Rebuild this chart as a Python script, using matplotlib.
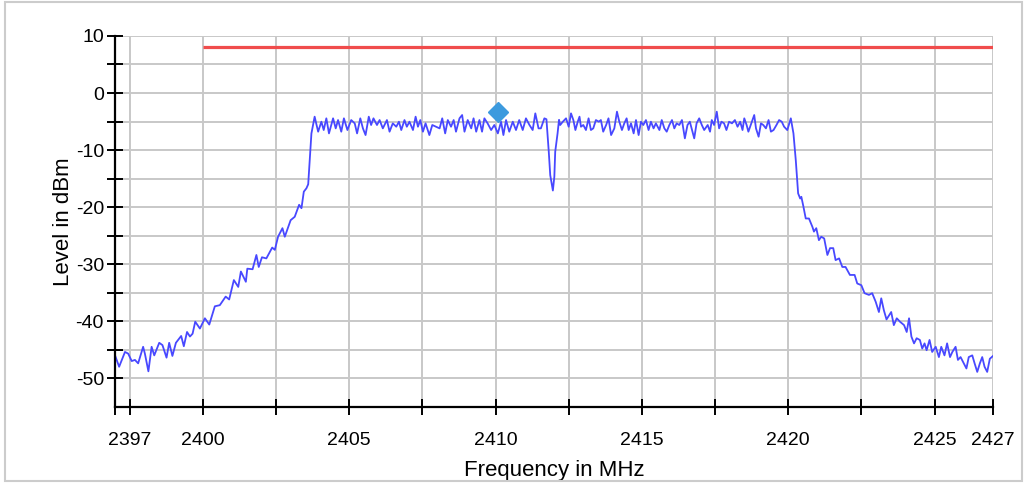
import matplotlib
matplotlib.use("Agg")
import matplotlib.pyplot as plt
from matplotlib.patches import Rectangle

# spectrum trace (MHz, dBm)
freq_mhz = [
    2397.00, 2397.14, 2397.34, 2397.45, 2397.57, 2397.68, 2397.79, 2397.96, 2398.02, 2398.14,
    2398.25, 2398.34, 2398.51, 2398.62, 2398.76, 2398.85, 2398.96, 2399.08, 2399.26, 2399.35,
    2399.46, 2399.56, 2399.65, 2399.74, 2399.90, 2400.07, 2400.22, 2400.41, 2400.58, 2400.78,
    2400.90, 2401.06, 2401.21, 2401.30, 2401.47, 2401.52, 2401.70, 2401.83, 2401.91, 2402.02,
    2402.17, 2402.37, 2402.46, 2402.57, 2402.72, 2402.80, 2403.00, 2403.14, 2403.29, 2403.37,
    2403.45, 2403.54, 2403.60, 2403.71,
    2403.82, 2403.94, 2404.05, 2404.13, 2404.22, 2404.31, 2404.45, 2404.54, 2404.62, 2404.73,
    2404.82, 2404.94, 2405.07, 2405.19, 2405.27, 2405.38, 2405.47, 2405.56, 2405.67, 2405.75,
    2405.83, 2405.95, 2406.04, 2406.15, 2406.29, 2406.38, 2406.49, 2406.61, 2406.70, 2406.78,
    2406.89, 2406.97, 2407.06, 2407.18, 2407.27, 2407.35, 2407.43, 2407.52, 2407.61, 2407.74,
    2407.84, 2407.97, 2408.09, 2408.18, 2408.28, 2408.37, 2408.48, 2408.57, 2408.65, 2408.77,
    2408.86, 2408.94, 2409.05, 2409.17, 2409.25, 2409.34, 2409.45, 2409.54, 2409.62, 2409.73,
    2409.85, 2409.96, 2410.08, 2410.19, 2410.27, 2410.36, 2410.47, 2410.59, 2410.70, 2410.81,
    2410.93, 2411.04, 2411.16, 2411.27, 2411.36, 2411.47, 2411.55, 2411.67, 2411.74,
    2411.82, 2411.87, 2411.96, 2412.01, 2412.04, 2412.12, 2412.17,
    2412.21, 2412.30, 2412.41, 2412.50, 2412.58, 2412.66, 2412.73, 2412.81, 2412.87, 2412.92,
    2413.00, 2413.09, 2413.18, 2413.26, 2413.34, 2413.43, 2413.53, 2413.60, 2413.68, 2413.78,
    2413.86, 2413.95, 2414.06, 2414.15, 2414.23, 2414.32, 2414.40, 2414.48, 2414.55, 2414.63,
    2414.72, 2414.80, 2414.89, 2414.97, 2415.05, 2415.14, 2415.23, 2415.31, 2415.40, 2415.48,
    2415.60, 2415.68, 2415.77, 2415.85, 2415.94, 2416.03, 2416.11, 2416.19, 2416.28, 2416.37,
    2416.47, 2416.56, 2416.64, 2416.73, 2416.79, 2416.87, 2416.96, 2417.05, 2417.13, 2417.25,
    2417.33, 2417.39, 2417.47, 2417.56, 2417.64, 2417.72, 2417.81, 2417.89, 2417.98, 2418.08,
    2418.18, 2418.27, 2418.36, 2418.44, 2418.50, 2418.58, 2418.64, 2418.72, 2418.84, 2418.90,
    2418.99, 2419.07, 2419.15, 2419.24, 2419.33, 2419.41, 2419.50, 2419.60, 2419.69, 2419.78,
    2419.86, 2419.97, 2420.09, 2420.18,
    2420.26, 2420.34, 2420.41, 2420.45, 2420.52, 2420.60, 2420.71, 2420.83, 2420.88, 2420.96,
    2421.05, 2421.13, 2421.23, 2421.34, 2421.43, 2421.54, 2421.62, 2421.74, 2421.85, 2421.96,
    2422.11, 2422.27, 2422.36, 2422.50, 2422.61, 2422.76, 2422.87, 2422.99, 2423.10, 2423.18,
    2423.27, 2423.36, 2423.52, 2423.61, 2423.71, 2423.82, 2423.96, 2424.05, 2424.13, 2424.21,
    2424.30, 2424.39, 2424.50, 2424.58, 2424.66, 2424.73, 2424.83, 2424.92, 2425.04, 2425.15,
    2425.23, 2425.34, 2425.43, 2425.53, 2425.61, 2425.72, 2425.80, 2425.89, 2426.00, 2426.09,
    2426.17, 2426.29, 2426.37, 2426.46, 2426.55, 2426.63, 2426.71, 2426.80, 2426.89, 2427.00,
]
level_dbm = [
    -46.0, -48.0, -45.4, -45.7, -47.0, -46.8, -47.4, -44.5, -45.7, -48.8,
    -44.5, -46.0, -43.8, -44.2, -46.4, -43.8, -46.1, -43.8, -42.6, -44.4,
    -41.9, -42.7, -42.2, -40.1, -41.3, -39.5, -40.6, -37.4, -37.2, -35.7,
    -36.2, -32.8, -34.0, -31.3, -33.1, -30.8, -30.9, -28.4, -30.5, -28.8,
    -29.0, -27.1, -27.5, -25.2, -23.7, -25.2, -22.3, -21.7, -19.6, -20.2,
    -17.3, -16.7, -16.0, -7.1,
    -4.15, -6.78, -5.03, -6.49, -4.44, -7.08, -4.44, -6.20, -4.74, -6.78,
    -4.44, -6.49, -4.74, -5.32, -7.08, -4.44, -6.20, -7.37, -4.15, -5.61,
    -4.44, -5.61, -4.74, -6.20, -4.74, -6.78, -5.32, -5.91, -5.03, -6.49,
    -4.74, -5.91, -5.03, -6.49, -4.15, -5.91, -4.74, -6.78, -5.32, -7.37,
    -5.61, -5.91, -6.20, -4.44, -7.08, -4.74, -5.91, -4.74, -6.78, -4.44,
    -3.86, -6.78, -4.74, -6.20, -4.44, -6.78, -4.74, -6.78, -4.44, -5.32,
    -6.49, -5.61, -7.08, -5.03, -7.37, -4.74, -6.78, -5.03, -6.49, -4.74,
    -6.49, -4.44, -5.61, -6.49, -3.57, -6.20, -6.20, -4.44, -4.60,
    -10.3, -14.4, -17.1, -14.7, -10.3, -7.1, -4.7,
    -5.61, -5.03, -4.44, -5.91, -3.57, -4.74, -6.49, -5.03, -4.15, -5.91,
    -5.61, -6.49, -4.44, -6.49, -6.20, -4.74, -5.03, -4.74, -6.78, -5.61,
    -4.44, -7.37, -6.20, -3.27, -5.03, -6.49, -5.32, -4.44, -6.49, -5.32,
    -7.08, -4.74, -7.37, -5.03, -5.61, -4.74, -6.49, -5.03, -6.20, -5.32,
    -6.49, -4.74, -6.20, -6.78, -5.61, -4.74, -6.20, -5.32, -5.61, -4.74,
    -7.95, -5.61, -5.03, -6.78, -7.95, -5.32, -4.44, -5.61, -6.49, -5.61,
    -6.78, -4.74, -5.61, -3.27, -6.20, -5.03, -5.32, -6.49, -5.03, -5.32,
    -4.74, -5.91, -5.03, -6.49, -4.44, -5.61, -6.78, -5.61, -3.86, -6.20,
    -7.66, -5.32, -5.61, -6.20, -4.74, -6.78, -6.49, -5.61, -4.74, -5.03,
    -5.90, -6.50, -4.44, -7.08,
    -11.8, -17.6, -18.5, -18.2, -19.9, -22.0, -22.0, -23.5, -24.3, -23.7,
    -25.8, -25.2, -25.5, -28.4, -27.2, -27.2, -29.3, -29.0, -30.5, -30.5,
    -31.9, -31.9, -33.4, -33.7, -35.1, -35.4, -35.1, -36.6, -38.4, -36.0,
    -38.1, -39.7, -38.4, -40.7, -39.5, -40.1, -40.7, -41.9, -39.5, -42.7,
    -43.9, -43.0, -43.3, -44.8, -43.9, -45.1, -43.3, -45.4, -44.5, -46.3,
    -44.5, -46.0, -43.9, -46.3, -45.4, -44.5, -46.8, -46.3, -47.4, -48.3,
    -46.3, -46.0, -47.4, -48.9, -47.4, -46.3, -48.0, -48.9, -46.6, -46.1,
]

limit_freq = [2400, 2427]
limit_level = [8, 8]
marker_freq = 2410.07
marker_level = -3.3

x_ticks = [2397, 2397.5, 2400, 2402.5, 2405, 2407.5, 2410, 2412.5, 2415,
           2417.5, 2420, 2422.5, 2425, 2427]
x_labels = ["", "2397", "2400", "", "2405", "", "2410", "", "2415",
            "", "2420", "", "2425", "2427"]
y_major = [-50, -40, -30, -20, -10, 0, 10]
y_minor = [-45, -35, -25, -15, -5, 5]

plt.rcParams['font.family'] = ['Liberation Sans', 'DejaVu Sans']
plt.rcParams['axes.unicode_minus'] = False

fig = plt.figure(figsize=(10.28, 4.83), dpi=100)
ax = fig.add_axes([0.1119, 0.158, 0.8541, 0.7675])

ax.plot(freq_mhz, level_dbm, color='#4848ff', lw=1.3, zorder=3)
ax.plot(limit_freq, limit_level, color='#f04c4c', lw=2.3, zorder=3,
        solid_capstyle='butt')
ax.plot([marker_freq], [marker_level], marker='D', ms=10, color='#3c9ade',
        mec='#3c9ade', zorder=4)

ax.set_xlim(2397, 2427)
ax.set_ylim(-55, 10)

ax.set_xticks(x_ticks)
ax.set_xticklabels(x_labels)
ax.set_yticks(y_major)
ax.set_yticks(y_minor, minor=True)

ax.tick_params(axis='both', which='both', direction='inout', length=12,
               width=1.4, color='black', labelsize=14)
ax.tick_params(axis='x', pad=12)
ax.tick_params(axis='y', pad=2)

for yv in y_major + y_minor:
    ax.axhline(yv, color='#c8c8c8', lw=1.4, zorder=1)
for xv in x_ticks[1:]:
    ax.axvline(xv, color='#c8c8c8', lw=1.4, zorder=1)

for side in ['top', 'right']:
    ax.spines[side].set_visible(False)
for side in ['left', 'bottom']:
    ax.spines[side].set_linewidth(1.6)
    ax.spines[side].set_zorder(5)

ax.set_xlabel("Frequency in MHz", fontsize=16, labelpad=8)
ax.set_ylabel("Level in dBm", fontsize=16, labelpad=1)

# light border around the whole picture
fig.patches.append(Rectangle((5 / 1028, 2 / 483), 1017 / 1028, 479 / 483,
                             transform=fig.transFigure, fill=False,
                             edgecolor='#cccccc', lw=1.5))

fig.savefig("out.png", dpi=100)
